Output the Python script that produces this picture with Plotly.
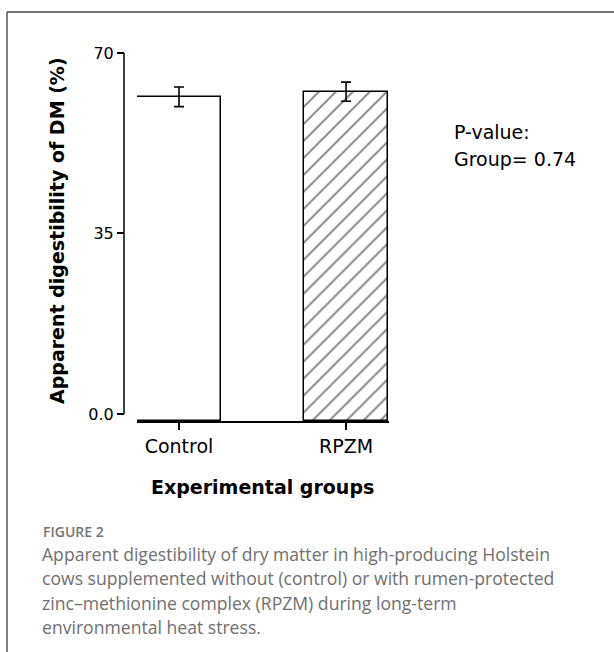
import plotly.graph_objects as go

# ---- data ----
groups = ["Control", "RPZM"]
digestibility = [61.5, 62.5]      # apparent DM digestibility, %
sem = [1.9, 1.85]                 # error bar half-length
hatch = ["", "/"]
y_tick_vals = [0, 35, 70]
y_tick_text = ["0.0", "35", "70"]
p_value_lines = ["P-value:", "Group= 0.74"]
caption_head = "FIGURE 2"
caption_lines = [
    "Apparent digestibility of dry matter in high-producing Holstein",
    "cows supplemented without (control) or with rumen-protected",
    "zinc\u2013methionine complex (RPZM) during long-term",
    "environmental heat stress.",
]

W, H = 614, 652
Y_MIN, Y_MAX = -1.36, 70


def px(x):
    return x / W


def py(y):
    return 1 - y / H


fig = go.Figure()

# bars run from the bottom of the plotting area up to each value
fig.add_trace(go.Bar(
    x=groups,
    y=[v - Y_MIN for v in digestibility],
    base=Y_MIN,
    width=0.503,
    marker=dict(
        color="white",
        line=dict(color="black", width=1.5),
        pattern=dict(shape=hatch, size=12, solidity=0.16,
                     fgcolor="#000000", bgcolor="white"),
    ),
    showlegend=False,
    hoverinfo="skip",
))

# error bars at the bar tops
fig.add_trace(go.Scatter(
    x=groups,
    y=digestibility,
    mode="markers",
    marker=dict(size=1, color="rgba(0,0,0,0)"),
    error_y=dict(type="data", array=sem, visible=True,
                 color="black", thickness=1.6, width=5),
    showlegend=False,
    hoverinfo="skip",
))

tick_font = dict(family="DejaVu Sans", size=16, color="black")
cat_font = dict(family="DejaVu Sans", size=19, color="black")
title_font = dict(family="DejaVu Sans", size=19, color="black", weight="bold")

fig.update_layout(
    width=W, height=H,
    margin=dict(l=0, r=0, t=0, b=0, autoexpand=False),
    paper_bgcolor="white",
    plot_bgcolor="white",
    bargap=0,
    xaxis=dict(
        domain=[px(137), px(389)],
        range=[-0.2515, 1.257],
        showline=True, linecolor="black", linewidth=1.6,
        ticks="outside", ticklen=7, tickwidth=1.5, tickcolor="black",
        tickfont=cat_font,
        showgrid=False, zeroline=False,
        anchor="y",
    ),
    yaxis=dict(
        domain=[py(421), py(53)],
        range=[Y_MIN, Y_MAX],
        anchor="free", position=px(124),
        showline=False,
        tickvals=y_tick_vals, ticktext=y_tick_text,
        ticks="outside", ticklen=7, tickwidth=1.5, tickcolor="black",
        tickfont=tick_font,
        showgrid=False, zeroline=False,
    ),
)

shapes = [
    # y-axis line from 0 to 70
    dict(type="line", xref="paper", yref="y", x0=px(124), x1=px(124),
         y0=0, y1=70, line=dict(color="black", width=1.5)),
    # figure frame (left and top)
    dict(type="line", xref="paper", yref="paper", x0=px(7), x1=px(7),
         y0=0, y1=py(12), line=dict(color="#555555", width=1.5)),
    dict(type="line", xref="paper", yref="paper", x0=px(7), x1=1,
         y0=py(12), y1=py(12), line=dict(color="#444444", width=1.5)),
]
fig.update_layout(shapes=shapes)

annotations = [
    dict(text="Apparent digestibility of DM (%)", textangle=-90,
         x=px(57), y=py(231), xref="paper", yref="paper",
         xanchor="center", yanchor="middle", showarrow=False,
         font=title_font),
    dict(text="Experimental groups",
         x=px(262), y=py(487), xref="paper", yref="paper",
         xanchor="center", yanchor="middle", showarrow=False,
         font=title_font),
]
for i, line in enumerate(p_value_lines):
    annotations.append(dict(
        text=line, x=px(452), y=py(132 + 27 * i), xref="paper", yref="paper",
        xanchor="left", yanchor="middle", showarrow=False,
        font=dict(family="DejaVu Sans", size=19, color="black")))

annotations.append(dict(
    text=caption_head, x=px(41), y=py(531), xref="paper", yref="paper",
    xanchor="left", yanchor="middle", showarrow=False,
    font=dict(family="Open Sans", size=14, color="#757575", weight=600)))
for i, line in enumerate(caption_lines):
    annotations.append(dict(
        text=line, x=px(40), y=py(554 + 24.3 * i), xref="paper", yref="paper",
        xanchor="left", yanchor="middle", showarrow=False,
        font=dict(family="Open Sans", size=17.6, color="#707070")))

fig.update_layout(annotations=annotations)

fig.write_html("out.html")
